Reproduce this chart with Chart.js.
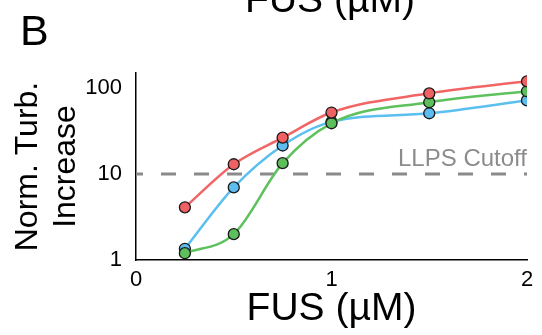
<!DOCTYPE html>
<html>
<head>
<meta charset="utf-8">
<script src="https://cdn.jsdelivr.net/npm/chart.js@4.4.1/dist/chart.umd.min.js"></script>
<style>
  html, body { margin: 0; padding: 0; background: #fff; }
  #wrap { width: 542px; height: 335px; }
</style>
</head>
<body>
<div id="wrap"><canvas id="turbChart" width="542" height="335"></canvas></div>
<script>
// Panel B – normalised turbidity vs FUS concentration (log y)

const fusConc = [0.25, 0.5, 0.75, 1, 1.5, 2];
const redVals = [4.1, 13, 26.5, 52, 87, 120];
const greenVals = [1.2, 2.0, 13.4, 39, 68.5, 92];
const blueVals = [1.35, 7.0, 21.5, 40.5, 51, 72];
const cutoffLevel = 10;
const xTicks = [0, 1, 2];
const yTicks = [1, 10, 100];

const FONT = 'Arial, "Liberation Sans", Helvetica, sans-serif';

const toPoints = vals => fusConc.map((x, i) => ({ x, y: vals[i] }));

function curve(label, vals, lineColor, fill) {
  return {
    label,
    data: toPoints(vals),
    borderColor: lineColor,
    borderWidth: 2.5,
    backgroundColor: fill,
    pointBackgroundColor: fill,
    pointBorderColor: '#1a1a1a',
    pointBorderWidth: 1.3,
    pointRadius: 5.5,
    cubicInterpolationMode: 'monotone',
    order: 0
  };
}

// extra text: panel letter, cut-off title of panel above, cutoff label
const annotations = {
  id: 'annotations',
  afterDraw(chart) {
    const { ctx, scales } = chart;
    ctx.save();
    ctx.fillStyle = '#000';
    ctx.textBaseline = 'alphabetic';

    ctx.font = `43px ${FONT}`;
    ctx.textAlign = 'left';
    ctx.fillText('B', 20, 45);

    ctx.font = `39px ${FONT}`;
    ctx.textAlign = 'center';
    ctx.fillText('FUS (µM)', 330, 12);

    ctx.fillStyle = '#8c8c8c';
    ctx.font = `24px ${FONT}`;
    ctx.textAlign = 'right';
    ctx.fillText('LLPS Cutoff', scales.x.getPixelForValue(2), scales.y.getPixelForValue(cutoffLevel) - 8);
    ctx.restore();
  }
};

new Chart(document.getElementById('turbChart'), {
  type: 'line',
  data: {
    datasets: [
      curve('red', redVals, '#f26565', '#f06164'),
      curve('green', greenVals, '#5dc15d', '#5cbf5c'),
      curve('blue', blueVals, '#5bbff0', '#5cbdee'),
      {
        label: 'LLPS Cutoff',
        data: [{ x: 0, y: cutoffLevel }, { x: 2, y: cutoffLevel }],
        borderColor: '#8a8a8a',
        borderWidth: 3,
        borderDash: [15, 18],
        borderDashOffset: 8,
        pointRadius: 0,
        order: 10
      }
    ]
  },
  options: {
    responsive: false,
    animation: false,
    layout: { padding: { top: 73, right: 15, left: 0, bottom: 0 } },
    plugins: { legend: { display: false }, tooltip: { enabled: false } },
    scales: {
      x: {
        type: 'linear',
        min: 0,
        max: 2,
        afterBuildTicks: s => { s.ticks = xTicks.map(v => ({ value: v })); },
        afterFit: s => { s.height = 75; },
        grid: { display: false, drawTicks: false },
        border: { color: '#000', width: 1.5 },
        ticks: { color: '#000', font: { family: FONT, size: 22 }, padding: 7 },
        title: {
          display: true,
          text: 'FUS (µM)',
          color: '#000',
          font: { family: FONT, size: 39 },
          padding: { top: 0, bottom: 2 }
        }
      },
      y: {
        type: 'logarithmic',
        min: 1,
        max: 150,
        afterBuildTicks: s => { s.ticks = yTicks.map(v => ({ value: v })); },
        afterFit: s => { s.width = 136; },
        grid: { display: false, drawTicks: false },
        border: { color: '#000', width: 1.5 },
        ticks: {
          color: '#000',
          font: { family: FONT, size: 22 },
          padding: 14,
          callback: v => String(v)
        },
        title: {
          display: true,
          text: ['Norm. Turb.', 'Increase'],
          color: '#000',
          font: { family: FONT, size: 32, lineHeight: 1.19 },
          padding: { top: 9, bottom: 0 }
        }
      }
    }
  },
  plugins: [annotations]
});
</script>
</body>
</html>
